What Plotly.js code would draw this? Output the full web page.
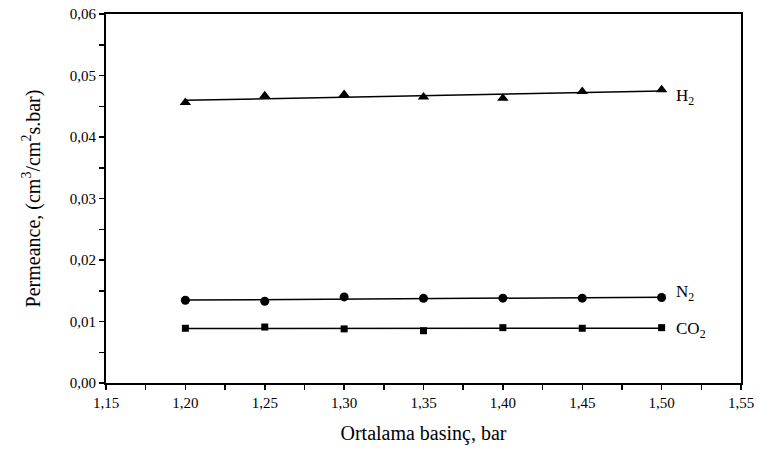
<!DOCTYPE html>
<html><head><meta charset="utf-8">
<script src="https://cdn.plot.ly/plotly-3.0.1.min.js"></script>
<style>html,body{margin:0;padding:0;background:#fff}#c{width:760px;height:458px}</style>
</head><body><div id="c"></div>
<script>
const pressure = [1.20, 1.25, 1.30, 1.35, 1.40, 1.45, 1.50];
const h2  = [0.0456, 0.0467, 0.0469, 0.0465, 0.0463, 0.0474, 0.0477];
const n2  = [0.01345, 0.0133, 0.0140, 0.01377, 0.0138, 0.0138, 0.0139];
const co2 = [0.0089, 0.0091, 0.0088, 0.0085, 0.0090, 0.0089, 0.0090];
const gasLabels = ['H<sub>2</sub>', 'N<sub>2</sub>', 'CO<sub>2</sub>'];
const xTicks = [1.15, 1.175, 1.20, 1.225, 1.25, 1.275, 1.30, 1.325, 1.35, 1.375, 1.40, 1.425, 1.45, 1.475, 1.50, 1.525, 1.55];
const xTickText = ['1,15', '', '1,20', '', '1,25', '', '1,30', '', '1,35', '', '1,40', '', '1,45', '', '1,50', '', '1,55'];
const yTicks = [0.00, 0.005, 0.01, 0.015, 0.02, 0.025, 0.03, 0.035, 0.04, 0.045, 0.05, 0.055, 0.06];
const yTickText = ['0,00', '', '0,01', '', '0,02', '', '0,03', '', '0,04', '', '0,05', '', '0,06'];

function fit(x, y) {
  const n = x.length;
  const mx = x.reduce((a,b)=>a+b,0)/n, my = y.reduce((a,b)=>a+b,0)/n;
  let sxy=0, sxx=0;
  for (let i=0;i<n;i++){ sxy+=(x[i]-mx)*(y[i]-my); sxx+=(x[i]-mx)**2; }
  const b = sxy/sxx, a = my - b*mx;
  return x.map(v => a + b*v);
}
const series = [
  {y: h2, sym: 'triangle-up', size: 10},
  {y: n2, sym: 'circle', size: 9},
  {y: co2, sym: 'square', size: 7}
];
const traces = [];
series.forEach(s => {
  traces.push({x: pressure, y: fit(pressure, s.y), mode: 'lines', line: {color: '#000', width: 1.5}, hoverinfo: 'skip'});
  traces.push({x: pressure, y: s.y, mode: 'markers', marker: {symbol: s.sym, size: s.size, color: '#000'}});
});
const F = 'Liberation Serif, Times New Roman, serif';
const labelY = [0.0465, 0.0146, 0.0087];
const annotations = gasLabels.map((t,i) => ({
  x: 1.508, y: labelY[i], xref: 'x', yref: 'y', text: t, showarrow: false,
  xanchor: 'left', yanchor: 'middle', font: {family: F, size: 17, color: '#000'}
}));
const layout = {
  width: 760, height: 458, showlegend: false,
  paper_bgcolor: '#fff', plot_bgcolor: '#fff',
  margin: {l: 106, r: 19, t: 14, b: 75},
  font: {family: F, color: '#000'},
  xaxis: {
    range: [1.15, 1.55], tickmode: 'array', tickvals: xTicks, ticktext: xTickText,
    ticks: 'outside', ticklen: 5, tickwidth: 1.5, tickcolor: '#000',
    showline: true, linecolor: '#000', linewidth: 2, mirror: true, showgrid: false, zeroline: false,
    tickfont: {family: F, size: 15, color: '#000'},
    title: {text: 'Ortalama basinç, bar', font: {family: F, size: 20, color: '#000'}, standoff: 16}
  },
  yaxis: {
    range: [0, 0.06], tickmode: 'array', tickvals: yTicks, ticktext: yTickText,
    ticks: 'outside', ticklen: 5, tickwidth: 1.5, tickcolor: '#000',
    showline: true, linecolor: '#000', linewidth: 2, mirror: true, showgrid: false, zeroline: false,
    tickfont: {family: F, size: 15, color: '#000'},
    title: {text: 'Permeance, (cm<sup>3</sup>/cm<sup>2</sup>s.bar)', font: {family: F, size: 20, color: '#000'}, standoff: 24}
  },
  annotations: annotations
};
Plotly.newPlot('c', traces, layout, {staticPlot: true, displayModeBar: false});
</script></body></html>
